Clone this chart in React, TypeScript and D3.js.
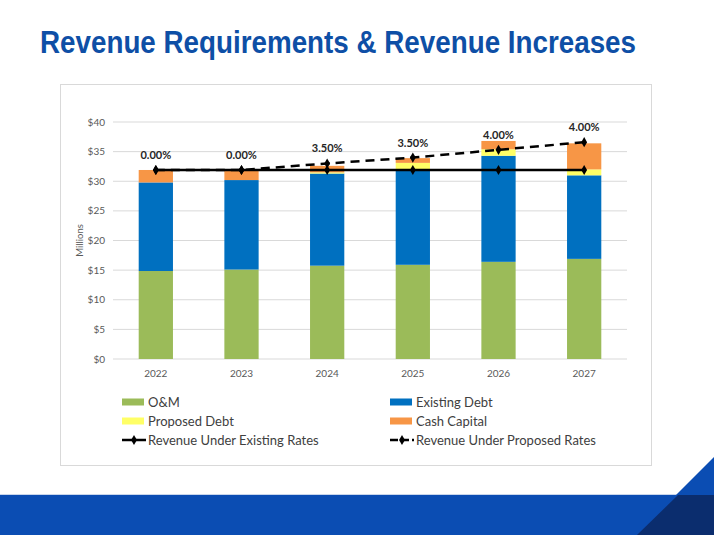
import React from "react";
import * as d3 from "d3";

const years = ["2022", "2023", "2024", "2025", "2026", "2027"];
const om = [14.85, 15.1, 15.75, 15.9, 16.4, 16.9];
const existingDebt = [14.95, 15.1, 15.55, 16.0, 17.9, 14.1];
const proposedDebt = [0, 0, 0.2, 1.2, 1.1, 1.0];
const cashCapital = [2.1, 1.7, 1.1, 0.8, 1.4, 4.4];
const revExisting = [31.9, 31.9, 31.9, 31.9, 31.9, 31.9];
const revProposed = [31.9, 31.9, 33.0, 34.0, 35.3, 36.6];
const increaseLabels = ["0.00%", "0.00%", "3.50%", "3.50%", "4.00%", "4.00%"];
const yTicks = [0, 5, 10, 15, 20, 25, 30, 35, 40];

const seriesNames = ["O&M", "Existing Debt", "Proposed Debt", "Cash Capital"];
const seriesColors = ["#9BBB59", "#0070C0", "#FFFF66", "#F79646"];

const W = 714;
const H = 535;
const FONT = "Lato, 'Open Sans', 'Liberation Sans', sans-serif";

export default function App() {
  const x = d3
    .scaleBand<string>()
    .domain(years)
    .range([113, 627])
    .paddingInner(0.6)
    .paddingOuter(0.3);
  const y = d3.scaleLinear().domain([0, 40]).range([359, 122]);
  const seriesData = [om, existingDebt, proposedDebt, cashCapital];

  const rows = years.map((yr, i) => {
    const r: any = { year: yr };
    seriesNames.forEach((n, k) => (r[n] = seriesData[k][i]));
    return r;
  });
  const stacked = d3.stack<any>().keys(seriesNames)(rows);

  const cx = (yr: string) => (x(yr) as number) + x.bandwidth() / 2;
  const lineGen = d3
    .line<number>()
    .x((_, i) => cx(years[i]))
    .y((v) => y(v));

  const diamond = d3.symbol().type(d3.symbolDiamond).size(30)() as string;

  const legendItems = [
    { label: "O&M", kind: "rect", color: seriesColors[0], x: 122, y: 402 },
    { label: "Existing Debt", kind: "rect", color: seriesColors[1], x: 390, y: 402 },
    { label: "Proposed Debt", kind: "rect", color: seriesColors[2], x: 122, y: 421 },
    { label: "Cash Capital", kind: "rect", color: seriesColors[3], x: 390, y: 421 },
    { label: "Revenue Under Existing Rates", kind: "solid", color: "#000", x: 122, y: 440 },
    { label: "Revenue Under Proposed Rates", kind: "dash", color: "#000", x: 390, y: 440 },
  ];

  const titleScale = 0.86;

  return (
    <svg
      width={W}
      height={H}
      style={{ position: "absolute", left: 0, top: 0, background: "#fff" }}
      fontFamily={FONT}
    >
      <rect x={0} y={0} width={W} height={H} fill="#fff" />
      <g transform={`translate(40,53) scale(${titleScale},1)`}>
        <text
          x={0}
          y={0}
          fontFamily="'Liberation Sans Narrow', 'Arial Narrow', 'Liberation Sans', Arial, sans-serif"
          fontWeight="bold"
          fontSize={32}
          fill="#0E4FA6"
          textLength={596 / titleScale}
          lengthAdjust="spacingAndGlyphs"
        >
          Revenue Requirements &amp; Revenue Increases
        </text>
      </g>

      {/* chart frame */}
      <rect x={60.5} y={84.5} width={591} height={381} fill="#fff" stroke="#D9D9D9" strokeWidth={1} />

      {/* gridlines */}
      {yTicks.map((t) => (
        <line key={t} x1={113} x2={627} y1={y(t)} y2={y(t)} stroke="#D9D9D9" strokeWidth={1} />
      ))}
      {yTicks.map((t) => (
        <text key={"l" + t} x={105} y={y(t) + 3.5} textAnchor="end" fontSize={10} fill="#595959">
          {"$" + t}
        </text>
      ))}
      <text
        transform={`translate(83,${y(20)}) rotate(-90)`}
        textAnchor="middle"
        fontSize={9.5}
        fill="#595959"
      >
        Millions
      </text>

      {/* bars */}
      {stacked.map((s, k) => (
        <g key={s.key} fill={seriesColors[k]}>
          {s.map((d, i) => (
            <rect
              key={i}
              x={x(years[i])}
              width={x.bandwidth()}
              y={y(d[1])}
              height={Math.max(0, y(d[0]) - y(d[1]))}
            />
          ))}
        </g>
      ))}

      {years.map((yr) => (
        <text key={yr} x={cx(yr)} y={377} textAnchor="middle" fontSize={10} fill="#595959">
          {yr}
        </text>
      ))}

      {/* lines */}
      <path d={lineGen(revExisting) as string} fill="none" stroke="#000" strokeWidth={2.5} />
      <path
        d={lineGen(revProposed) as string}
        fill="none"
        stroke="#000"
        strokeWidth={2.5}
        strokeDasharray="9,6"
      />
      {revExisting.map((v, i) => (
        <path key={"de" + i} d={diamond} transform={`translate(${cx(years[i])},${y(v)})`} fill="#000" />
      ))}
      {revProposed.map((v, i) => (
        <path key={"dp" + i} d={diamond} transform={`translate(${cx(years[i])},${y(v)})`} fill="#000" />
      ))}
      {revProposed.map((v, i) => (
        <text
          key={"pl" + i}
          x={cx(years[i])}
          y={y(v) - 11}
          textAnchor="middle"
          fontSize={11}
          fontWeight="bold"
          fill="#262626"
        >
          {increaseLabels[i]}
        </text>
      ))}

      {/* legend */}
      {legendItems.map((it) => (
        <g key={it.label}>
          {it.kind === "rect" ? (
            <rect x={it.x} y={it.y - 3.5} width={22} height={7} fill={it.color} />
          ) : (
            <g>
              <line
                x1={it.x}
                x2={it.x + 24}
                y1={it.y}
                y2={it.y}
                stroke="#000"
                strokeWidth={2.5}
                strokeDasharray={it.kind === "dash" ? "8,3" : undefined}
              />
              <path d={diamond} transform={`translate(${it.x + 12},${it.y})`} fill="#000" />
            </g>
          )}
          <text x={it.x + 26} y={it.y + 4.5} fontSize={13} fill="#404040">
            {it.label}
          </text>
        </g>
      ))}

      {/* bottom band */}
      <rect x={0} y={494} width={W} height={1.5} fill="#C9D6EC" />
      <rect x={0} y={495} width={W} height={40} fill="#0B4DB3" />
      <polygon points="714,457 714,495 676,495" fill="#0B4DB3" />
      <polygon points="714,495 714,535 637,535 678,495" fill="#0B2D6E" />
    </svg>
  );
}
